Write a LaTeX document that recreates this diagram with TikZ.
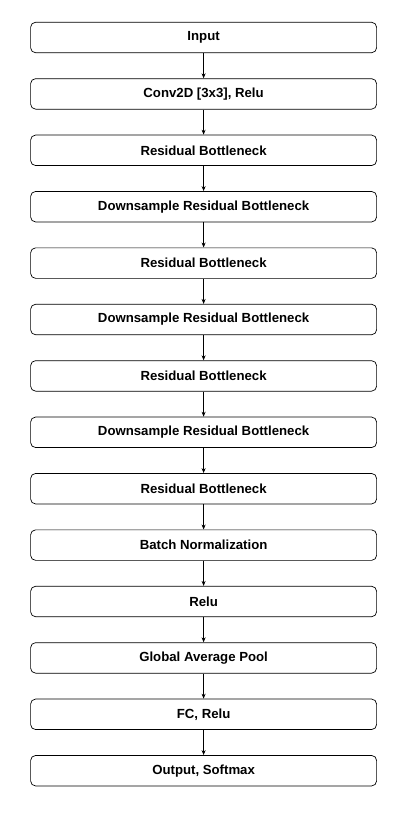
\documentclass[tikz,border=0pt]{standalone}
\usepackage{fontspec}
\setmainfont{Liberation Sans}
\usetikzlibrary{positioning, arrows.meta}

\begin{document}
\begin{tikzpicture}[x = 1pt, y = 1pt,
		layer/.style = {draw, line width = 0.7pt, rounded corners = 5pt, minimum width = 346pt, minimum height = 30.5pt, inner sep = 0pt, font = \fontsize{13.2}{15}\selectfont\bfseries},
		flow/.style = {line width = 0.7pt, -{Stealth[length = 5pt, width = 4pt]}},
		node distance = 25.2pt]
	\useasboundingbox (0,0) rectangle (407,-814);

	\node [layer] (in) at (203.6,-37.5) {Input};
	\node [layer, below = of in] (conv) {Conv2D [3x3], Relu};
	\node [layer, below = of conv] (res1) {Residual Bottleneck};
	\node [layer, below = of res1] (down1) {Downsample Residual Bottleneck};
	\node [layer, below = of down1] (res2) {Residual Bottleneck};
	\node [layer, below = of res2] (down2) {Downsample Residual Bottleneck};
	\node [layer, below = of down2] (res3) {Residual Bottleneck};
	\node [layer, below = of res3] (down3) {Downsample Residual Bottleneck};
	\node [layer, below = of down3] (res4) {Residual Bottleneck};
	\node [layer, below = of res4] (bn) {Batch Normalization};
	\node [layer, below = of bn] (relu) {Relu};
	\node [layer, below = of relu] (pool) {Global Average Pool};
	\node [layer, below = of pool] (fc) {FC, Relu};
	\node [layer, below = of fc] (out) {Output, Softmax};

	\foreach \a/\b in {in/conv, conv/res1, res1/down1, down1/res2, res2/down2, down2/res3, res3/down3, down3/res4, res4/bn, bn/relu, relu/pool, pool/fc, fc/out}
	{
		\draw [flow] (\a) -- (\b);
	}
\end{tikzpicture}
\end{document}
